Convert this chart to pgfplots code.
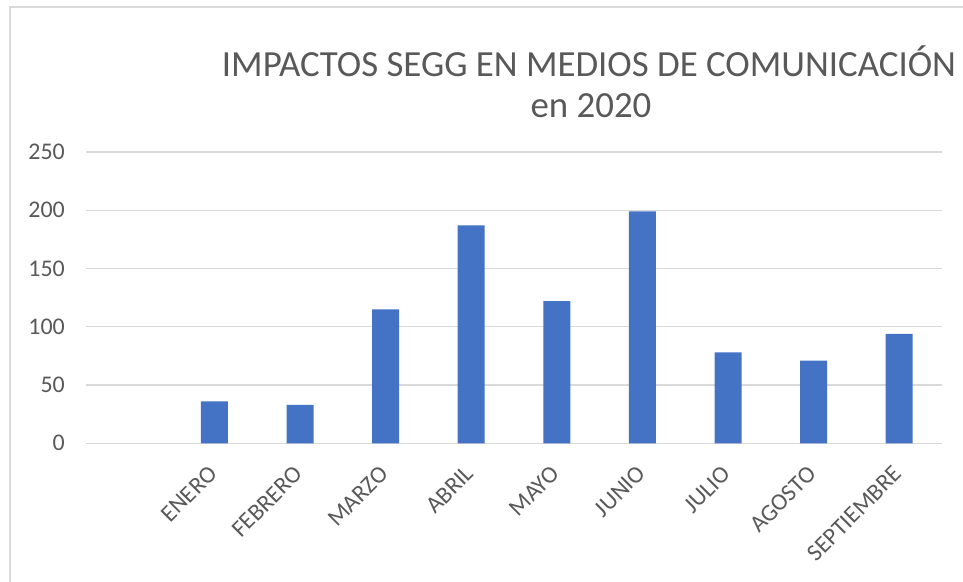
\documentclass[border=0pt]{standalone}
\usepackage{pgfplots}
\pgfplotsset{compat=1.18}
\usepackage{fontspec}
\setmainfont{Carlito}
\definecolor{barblue}{HTML}{4472C4}
\definecolor{gridgray}{HTML}{D9D9D9}
\definecolor{txtgray}{HTML}{595959}
\begin{document}
\begin{tikzpicture}[x=1bp,y=1bp]
\useasboundingbox (0,0) rectangle (963,582);
\fill[white] (0,0) rectangle (963,582);
\draw[gridgray, line width=1.5bp] (10,0) -- (10,575) -- (963,575);
\node[txtgray, anchor=base, font=\fontsize{37}{44}\selectfont, inner sep=0pt] at (589,505) {IMPACTOS SEGG EN MEDIOS DE COMUNICACIÓN};
\node[txtgray, anchor=base, font=\fontsize{37}{44}\selectfont, inner sep=0pt] at (591,464) {en 2020};
\begin{axis}[
  at={(86bp,138.7bp)}, anchor=south west,
  scale only axis, width=856bp, height=291.3bp,
  xmin=-0.5, xmax=9.5, ymin=0, ymax=250,
  ytick={0,50,100,150,200,250},
  xtick={1,2,3,4,5,6,7,8,9},
  xticklabels={ENERO,FEBRERO,MARZO,ABRIL,MAYO,JUNIO,JULIO,AGOSTO,SEPTIEMBRE},
  axis line style={draw=none},
  major tick length=0pt,
  ymajorgrids,
  grid style={gridgray, line width=1.4bp},
  tick label style={txtgray, font=\fontsize{24}{29}\selectfont},
  yticklabel style={anchor=east, inner sep=0pt, xshift=-21bp},
  xticklabel style={xshift=-7bp, yshift=-21bp, rotate=45, anchor=north east, inner sep=0pt},
  /pgf/number format/assume math mode=true,
  ybar, bar width=27bp, bar shift=0pt,
  clip=false,
]
\addplot[fill=barblue, draw=none] coordinates {
  (1,36) (2,33) (3,115) (4,187) (5,122) (6,199) (7,78) (8,71) (9,94)
};
\end{axis}
\end{tikzpicture}
\end{document}
